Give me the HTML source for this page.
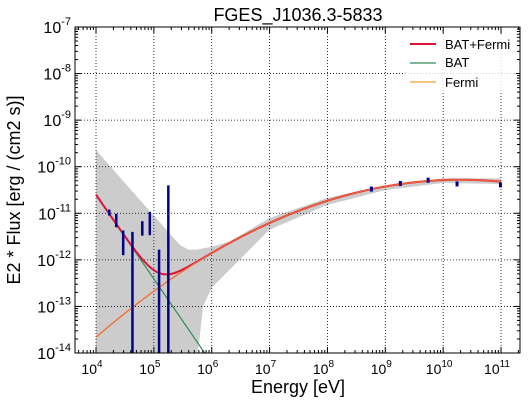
<!DOCTYPE html>
<html><head><meta charset="utf-8"><style>
html,body{margin:0;background:#fff;width:529px;height:404px;overflow:hidden;position:relative;}
svg{display:block;overflow:hidden;}
svg text{font-family:"Liberation Sans","DejaVu Sans",sans-serif;}
</style></head><body>
<svg id="c" width="529" height="404" style="position:absolute;left:0;top:0" xmlns="http://www.w3.org/2000/svg"></svg>
<script>
// data (log10 values)
const batLogE=[4.23,4.35,4.47,4.63,4.80,4.93,5.09,5.25];
const batLogF=[-10.98,-11.14,-11.56,-12.18,-11.29,-11.14,-12.54,-10.89];
const batErrHi=[-10.92,-11.01,-11.37,-11.4,-11.17,-10.97,-11.78,-10.4];
const batErrLo=[-11.05,-11.3,-11.9,-14,-11.48,-11.47,-14,-14];
const fermiLogE=[8.76,9.26,9.74,10.24,10.99];
const fermiLogF=[-10.48,-10.36,-10.29,-10.37,-10.39];
const batModel=[-10.6,-1.81];          // intercept at logE=4, slope
const fermiModel=[-10.28,10.3,0.0852]; // peak, peak logE, curvature
const bandX=[4,4.5,5,5.45,5.6,5.75,5.78,5.85,6.0,6.32,7,8,9,10,11];
const bandHi=[-9.64,-10.35,-11.05,-11.68,-11.78,-11.78,-11.77,-11.75,-11.72,-11.6,-11.1,-10.67,-10.4,-10.25,-10.25];
const bandLo=[-14,-14,-14,-14,-14,-14,-13.8,-13.0,-12.6,-12.2,-11.35,-10.82,-10.5,-10.35,-10.37];
const xTicks=[4,5,6,7,8,9,10,11];
const yTicks=[-14,-13,-12,-11,-10,-9,-8,-7];

const L=75,R=520,T=27,B=353;
const X=v=>96+(v-4)*57.86;
const Y=v=>27+(-7-v)*46.571;
const svg=document.getElementById('c');
const NS='http://www.w3.org/2000/svg';
function mk(tag,at,parent){const e=document.createElementNS(NS,tag);for(const k in at)e.setAttribute(k,at[k]);(parent||svg).appendChild(e);return e;}
const defs=mk('defs',{});const cp=mk('clipPath',{id:'pa'},defs);mk('rect',{x:L,y:T,width:R-L,height:B-T},cp);
const g=mk('g',{'clip-path':'url(#pa)'});
let d='M'+bandX.map((x,i)=>X(x)+','+Y(bandHi[i])).join('L');
for(let i=bandX.length-1;i>=0;i--)d+='L'+X(bandX[i])+','+Y(bandLo[i]);
const band=mk('path',{d:d+'Z',fill:'#cccccc'},g);


xTicks.forEach(t=>{const l=mk('line',{x1:X(t),x2:X(t),y1:T,y2:B,stroke:'#000','stroke-width':0.8,'stroke-dasharray':'1,2'},g);});
yTicks.forEach(t=>{const l=mk('line',{x1:L,x2:R,y1:Y(t),y2:Y(t),stroke:'#000','stroke-width':0.8,'stroke-dasharray':'1,2'},g);});
const bat=t=>batModel[0]+batModel[1]*(t-4);
const fer=t=>fermiModel[0]-fermiModel[2]*(t-fermiModel[1])**2;
function curve(f,col,w,name){let p='';for(let t=4;t<=11.0001;t+=0.02){const v=Math.max(f(t),-14.05);p+=(p?'L':'M')+X(t).toFixed(1)+','+Y(v).toFixed(1);}const e=mk('path',{d:p,fill:'none',stroke:col,'stroke-width':w},g);}
curve(bat,'#2e8b57',1.2,'bat-model-line');
curve(fer,'#f5a030',1.2,'fermi-model-line');
curve(t=>Math.log10(10**bat(t)+10**fer(t)),'#dc143c',2,'combined-model-line');
curve(fer,'#f26a30',1.2,'fermi-model-overlay');
batLogE.forEach((x,i)=>{const e=mk('line',{x1:X(x),x2:X(x),y1:Y(batErrHi[i]),y2:Y(batErrLo[i]),stroke:'#00008b','stroke-width':2.5},g);
const p=mk('rect',{x:X(x)-1,y:Y(batLogF[i])-1,width:2,height:2,fill:'#00008b'},g);});
fermiLogE.forEach((x,i)=>{const p=mk('rect',{x:X(x)-1.5,y:Y(fermiLogF[i])-2.5,width:3,height:5,fill:'#00008b'},g);});
const fr=mk('rect',{x:L,y:T,width:R-L,height:B-T,fill:'none',stroke:'#000','stroke-width':1});

for(let dec=3;dec<=11;dec++)for(let m=1;m<10;m++){const v=dec+Math.log10(m);const px=X(v);if(px<L||px>R)continue;const len=m==1?6:3;
mk('line',{x1:px,x2:px,y1:B,y2:B-len,stroke:'#000'});mk('line',{x1:px,x2:px,y1:T,y2:T+len,stroke:'#000'});}
for(let dec=-15;dec<=-7;dec++)for(let m=1;m<10;m++){const v=dec+Math.log10(m);const py=Y(v);if(py<T-0.1||py>B+0.1)continue;const len=m==1?6:3;
mk('line',{x1:L,x2:L+len,y1:py,y2:py,stroke:'#000'});mk('line',{x1:R,x2:R-len,y1:py,y2:py,stroke:'#000'});}
xTicks.forEach(t=>{const e=mk('text',{x:X(t)-4,y:374,'font-size':14,'text-anchor':'middle'});e.innerHTML='10<tspan dy="-7" font-size="10">'+t+'</tspan>';});
yTicks.forEach(t=>{const e=mk('text',{x:L-4,y:Y(t)+6,'font-size':16,'text-anchor':'end'});e.innerHTML='10<tspan dy="-8" font-size="11">'+t+'</tspan>';});
</script>
<svg width="529" height="404" style="position:absolute;left:0;top:0" xmlns="http://www.w3.org/2000/svg">
<text x="298" y="21" font-size="18" text-anchor="middle">FGES_J1036.3-5833</text>
<text x="298" y="393" font-size="18" text-anchor="middle">Energy [eV]</text>
<text x="20" y="190" font-size="18" text-anchor="middle" transform="rotate(-90 20 190)">E2 * Flux [erg / (cm2 s)]</text>
<g>
<rect x="404" y="34" width="112" height="58" fill="#fff" opacity="0.8"/>
<line x1="410" x2="436" y1="44" y2="44" stroke="#dc143c" stroke-width="2"/>
<text x="445" y="49" font-size="13">BAT+Fermi</text>
<line x1="410" x2="436" y1="63" y2="63" stroke="#2e8b57" stroke-width="1.2"/>
<text x="445" y="67" font-size="13">BAT</text>
<line x1="410" x2="436" y1="82" y2="82" stroke="#f5a030" stroke-width="1.2"/>
<text x="445" y="87" font-size="13">Fermi</text>
</g>
</svg>
</body></html>
